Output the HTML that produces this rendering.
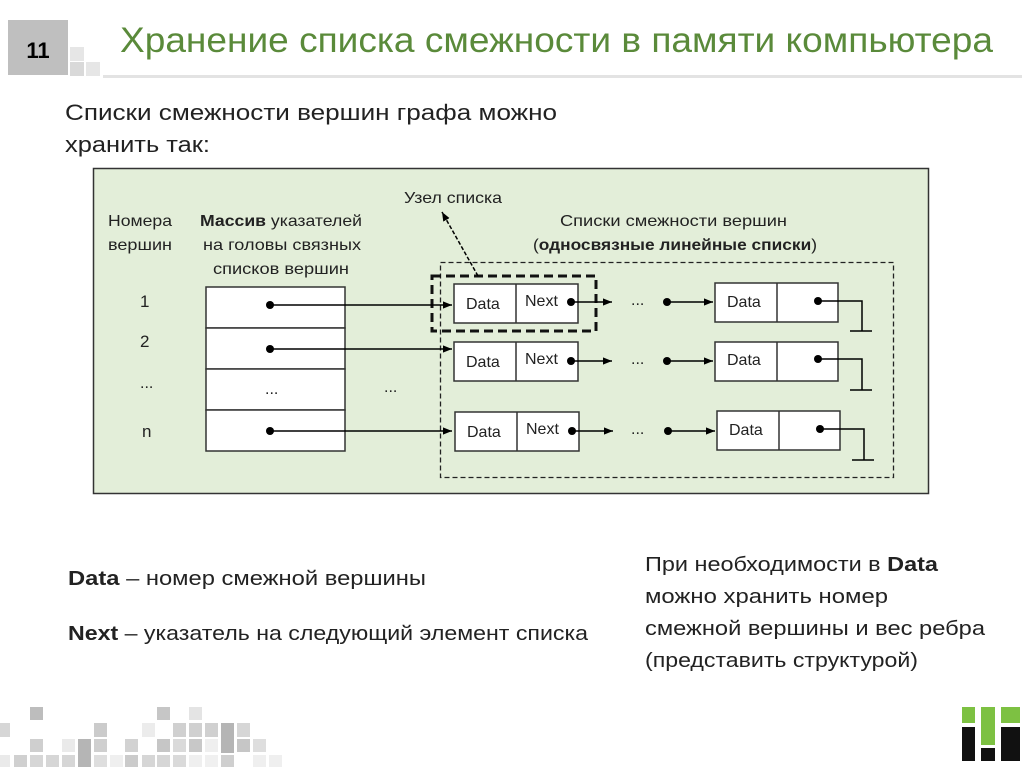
<!DOCTYPE html>
<html><head><meta charset="utf-8"><style>
html,body{margin:0;padding:0;background:#fff;width:1024px;height:767px;overflow:hidden}
svg{display:block}
text{font-family:"Liberation Sans",sans-serif}
</style></head><body>
<svg width="1024" height="767" viewBox="0 0 1024 767" xmlns="http://www.w3.org/2000/svg">
<defs>
<marker id="ah" viewBox="0 0 10 10" refX="10" refY="5" markerWidth="9" markerHeight="9" markerUnits="userSpaceOnUse" orient="auto"><path d="M0,1 L10,5 L0,9 z" fill="#000"/></marker>
</defs>
<rect x="8" y="20" width="60" height="55" fill="#bfbfbf"/>
<text x="38" y="58" font-size="22" font-weight="bold" text-anchor="middle" fill="#000">11</text>
<rect x="70" y="47" width="14" height="14" fill="#e6e6e6"/>
<rect x="70" y="62" width="14" height="14" fill="#d9d9d9"/>
<rect x="86" y="62" width="14" height="14" fill="#e6e6e6"/>
<rect x="103" y="75" width="919" height="3" fill="#e3e3e3"/>
<text x="120" y="52" font-size="35" fill="#5a8a3a" textLength="873" lengthAdjust="spacingAndGlyphs">Хранение списка смежности в памяти компьютера</text>
<text x="65" y="120" font-size="22" fill="#222" textLength="492" lengthAdjust="spacingAndGlyphs">Списки смежности вершин графа можно</text>
<text x="65" y="152" font-size="22" fill="#222" textLength="145" lengthAdjust="spacingAndGlyphs">хранить так:</text>
<rect x="93.5" y="168.5" width="835" height="325" fill="#e3eed9" stroke="#333" stroke-width="1.5"/>
<g fill="#fff" stroke="#333" stroke-width="1.5">
<rect x="206" y="287" width="139" height="41"/>
<rect x="206" y="328" width="139" height="41"/>
<rect x="206" y="369" width="139" height="41"/>
<rect x="206" y="410" width="139" height="41"/>
</g>
<g font-size="16" fill="#222">
<text x="108" y="226" textLength="64" lengthAdjust="spacingAndGlyphs">Номера</text>
<text x="108" y="250" textLength="64" lengthAdjust="spacingAndGlyphs">вершин</text>
<text x="200" y="226" textLength="162" lengthAdjust="spacingAndGlyphs"><tspan font-weight="bold">Массив</tspan> указателей</text>
<text x="203" y="250" textLength="158" lengthAdjust="spacingAndGlyphs">на головы связных</text>
<text x="213" y="274" textLength="136" lengthAdjust="spacingAndGlyphs">списков вершин</text>
<text x="404" y="203" textLength="98" lengthAdjust="spacingAndGlyphs">Узел списка</text>
<text x="560" y="226" textLength="227" lengthAdjust="spacingAndGlyphs">Списки смежности вершин</text>
<text x="533" y="250" textLength="284" lengthAdjust="spacingAndGlyphs">(<tspan font-weight="bold">односвязные линейные списки</tspan>)</text>
<text x="140" y="307" font-size="17">1</text>
<text x="140" y="347" font-size="17">2</text>
<text x="140" y="388">...</text>
<text x="142" y="437" font-size="17">n</text>
<text x="265" y="394">...</text>
<text x="384" y="392">...</text>
</g>
<rect x="440.5" y="262.5" width="453" height="215" fill="none" stroke="#222" stroke-width="1.3" stroke-dasharray="5,3"/>
<g fill="#fff" stroke="#333" stroke-width="1.5">
<rect x="454" y="284" width="124" height="39"/><line x1="516" y1="284" x2="516" y2="323"/>
<rect x="454" y="342" width="124" height="39"/><line x1="516" y1="342" x2="516" y2="381"/>
<rect x="455" y="412" width="124" height="39"/><line x1="517" y1="412" x2="517" y2="451"/>
<rect x="715" y="283" width="123" height="39"/><line x1="777" y1="283" x2="777" y2="322"/>
<rect x="715" y="342" width="123" height="39"/><line x1="777" y1="342" x2="777" y2="381"/>
<rect x="717" y="411" width="123" height="39"/><line x1="779" y1="411" x2="779" y2="450"/>
</g>
<rect x="432" y="276" width="164" height="55" fill="none" stroke="#111" stroke-width="3" stroke-dasharray="9,5"/>
<g font-size="16" fill="#222">
<text x="466" y="309">Data</text><text x="525" y="306">Next</text>
<text x="466" y="367">Data</text><text x="525" y="364">Next</text>
<text x="467" y="437">Data</text><text x="526" y="434">Next</text>
<text x="727" y="307">Data</text>
<text x="727" y="365">Data</text>
<text x="729" y="435">Data</text>
<text x="631" y="305">...</text>
<text x="631" y="364">...</text>
<text x="631" y="434">...</text>
</g>
<g stroke="#000" stroke-width="1.5" fill="none">
<line x1="270" y1="305" x2="452" y2="305" marker-end="url(#ah)"/>
<line x1="270" y1="349" x2="452" y2="349" marker-end="url(#ah)"/>
<line x1="270" y1="431" x2="452" y2="431" marker-end="url(#ah)"/>
<line x1="571" y1="302" x2="612" y2="302" marker-end="url(#ah)"/>
<line x1="571" y1="361" x2="612" y2="361" marker-end="url(#ah)"/>
<line x1="572" y1="431" x2="613" y2="431" marker-end="url(#ah)"/>
<line x1="667" y1="302" x2="713" y2="302" marker-end="url(#ah)"/>
<line x1="667" y1="361" x2="713" y2="361" marker-end="url(#ah)"/>
<line x1="668" y1="431" x2="715" y2="431" marker-end="url(#ah)"/>
<polyline points="818,301 862,301 862,331"/><line x1="850" y1="331" x2="872" y2="331"/>
<polyline points="818,359 862,359 862,390"/><line x1="850" y1="390" x2="872" y2="390"/>
<polyline points="820,429 864,429 864,460"/><line x1="852" y1="460" x2="874" y2="460"/>
<line x1="478" y1="276" x2="442" y2="212" stroke-dasharray="4,2" marker-end="url(#ah)"/>
</g>
<g fill="#000">
<circle cx="270" cy="305" r="4"/><circle cx="270" cy="349" r="4"/><circle cx="270" cy="431" r="4"/>
<circle cx="571" cy="302" r="4"/><circle cx="571" cy="361" r="4"/><circle cx="572" cy="431" r="4"/>
<circle cx="667" cy="302" r="4"/><circle cx="667" cy="361" r="4"/><circle cx="668" cy="431" r="4"/>
<circle cx="818" cy="301" r="4"/><circle cx="818" cy="359" r="4"/><circle cx="820" cy="429" r="4"/>
</g>
<g font-size="20" fill="#222">
<text x="68" y="585" textLength="358" lengthAdjust="spacingAndGlyphs"><tspan font-weight="bold">Data</tspan> – номер смежной вершины</text>
<text x="68" y="640" textLength="520" lengthAdjust="spacingAndGlyphs"><tspan font-weight="bold">Next</tspan> – указатель на следующий элемент списка</text>
<text x="645" y="571" textLength="293" lengthAdjust="spacingAndGlyphs">При необходимости в <tspan font-weight="bold">Data</tspan></text>
<text x="645" y="603" textLength="243" lengthAdjust="spacingAndGlyphs">можно хранить номер</text>
<text x="645" y="635" textLength="340" lengthAdjust="spacingAndGlyphs">смежной вершины и вес ребра</text>
<text x="645" y="667" textLength="273" lengthAdjust="spacingAndGlyphs">(представить структурой)</text>
</g>
<g>
<rect x="30" y="707" width="13" height="13" fill="#bdbdbd"/>
<rect x="157" y="707" width="13" height="13" fill="#c6c6c6"/>
<rect x="189" y="707" width="13" height="13" fill="#e4e4e4"/>
<rect x="0" y="723" width="10" height="14" fill="#d6d6d6"/>
<rect x="94" y="723" width="13" height="14" fill="#cbcbcb"/>
<rect x="142" y="723" width="13" height="14" fill="#ececec"/>
<rect x="173" y="723" width="13" height="14" fill="#d0d0d0"/>
<rect x="189" y="723" width="13" height="14" fill="#d0d0d0"/>
<rect x="205" y="723" width="13" height="14" fill="#d0d0d0"/>
<rect x="221" y="723" width="13" height="30" fill="#b5b5b5"/>
<rect x="237" y="723" width="13" height="14" fill="#d6d6d6"/>
<rect x="30" y="739" width="13" height="13" fill="#cfcfcf"/>
<rect x="62" y="739" width="13" height="13" fill="#eaeaea"/>
<rect x="78" y="739" width="13" height="28" fill="#b5b5b5"/>
<rect x="94" y="739" width="13" height="13" fill="#cfcfcf"/>
<rect x="125" y="739" width="13" height="13" fill="#d2d2d2"/>
<rect x="157" y="739" width="13" height="13" fill="#c6c6c6"/>
<rect x="173" y="739" width="13" height="13" fill="#dadada"/>
<rect x="189" y="739" width="13" height="13" fill="#c8c8c8"/>
<rect x="205" y="739" width="13" height="13" fill="#efefef"/>
<rect x="237" y="739" width="13" height="13" fill="#c6c6c6"/>
<rect x="253" y="739" width="13" height="13" fill="#dedede"/>
<rect x="0" y="755" width="10" height="12" fill="#eaeaea"/>
<rect x="14" y="755" width="13" height="12" fill="#d0d0d0"/>
<rect x="30" y="755" width="13" height="12" fill="#d6d6d6"/>
<rect x="46" y="755" width="13" height="12" fill="#d6d6d6"/>
<rect x="62" y="755" width="13" height="12" fill="#d6d6d6"/>
<rect x="94" y="755" width="13" height="12" fill="#dedede"/>
<rect x="110" y="755" width="13" height="12" fill="#efefef"/>
<rect x="125" y="755" width="13" height="12" fill="#cbcbcb"/>
<rect x="142" y="755" width="13" height="12" fill="#d6d6d6"/>
<rect x="157" y="755" width="13" height="12" fill="#d6d6d6"/>
<rect x="173" y="755" width="13" height="12" fill="#dadada"/>
<rect x="189" y="755" width="13" height="12" fill="#efefef"/>
<rect x="205" y="755" width="13" height="12" fill="#f0f0f0"/>
<rect x="221" y="755" width="13" height="12" fill="#cfcfcf"/>
<rect x="253" y="755" width="13" height="12" fill="#efefef"/>
<rect x="269" y="755" width="13" height="12" fill="#efefef"/>
</g>
<rect x="962" y="707" width="13" height="16" fill="#7dc142"/>
<rect x="981" y="707" width="14" height="38" fill="#7dc142"/>
<rect x="1001" y="707" width="19" height="16" fill="#7dc142"/>
<rect x="962" y="727" width="13" height="34" fill="#111"/>
<rect x="981" y="748" width="14" height="13" fill="#111"/>
<rect x="1001" y="727" width="19" height="34" fill="#111"/>
</svg>
</body></html>
